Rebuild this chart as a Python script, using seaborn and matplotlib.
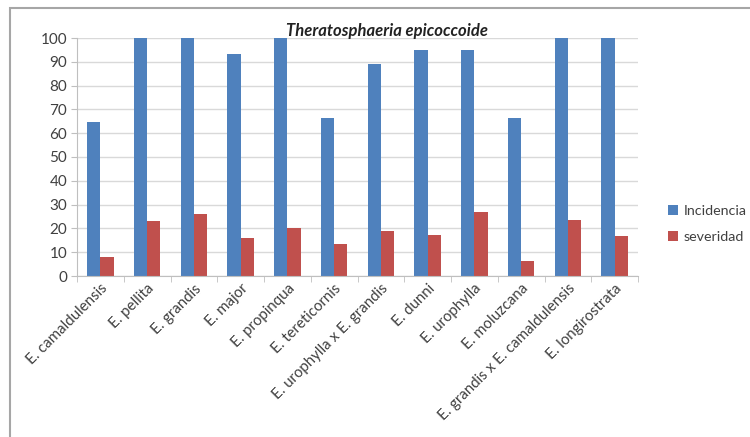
import pandas as pd
import matplotlib.pyplot as plt
import matplotlib.patches as patches
import seaborn as sns

especies = ['E. camaldulensis', 'E. pellita', 'E. grandis', 'E. major', 'E. propinqua',
            'E. tereticornis', 'E. urophylla x E. grandis', 'E. dunni', 'E. urophylla',
            'E. moluzcana', 'E. grandis x E. camaldulensis', 'E. longirostrata']
incidencia = [64.6, 100, 100, 93.4, 100, 66.4, 88.9, 95, 95, 66.4, 100, 100]
severidad = [8.0, 23.1, 26.2, 15.9, 20.3, 13.3, 18.7, 17.3, 26.9, 6.3, 23.6, 16.6]
series = ['Incidencia', 'severidad']

df = pd.DataFrame({
    'especie': especies * 2,
    'valor': incidencia + severidad,
    'serie': [series[0]] * len(especies) + [series[1]] * len(especies),
})

sns.set_style('white')
plt.rcParams['font.family'] = ['Lato', 'DejaVu Sans']

fig = plt.figure(figsize=(7.5, 4.37), dpi=100)
ax = fig.add_axes([77 / 750, 1 - 276 / 437, (638 - 77) / 750, (276 - 38) / 437])

sns.barplot(data=df, x='especie', y='valor', hue='serie', order=especies,
            palette=['#4F81BD', '#C0504D'], width=0.57, saturation=1,
            linewidth=0, ax=ax)

ax.set_ylim(0, 100)
ax.set_xlim(-0.5, len(especies) - 0.5)
ax.set_yticks(range(0, 101, 10))
ax.yaxis.grid(True, color='#d9d9d9', linewidth=1)
ax.set_axisbelow(True)
ax.set_xlabel('')
ax.set_ylabel('')
for s in ['top', 'right']:
    ax.spines[s].set_visible(False)
ax.spines['left'].set_color('#bfbfbf')
ax.spines['bottom'].set_color('#bfbfbf')

ax.tick_params(axis='y', labelsize=11, labelcolor='#404040', length=4, color='#bfbfbf', left=True, pad=3)
ax.set_xticks([i + 0.5 for i in range(-1, len(especies))], minor=True)
ax.tick_params(axis='x', which='minor', length=4, color='#bfbfbf', bottom=True)
ax.tick_params(axis='x', which='major', length=0, labelsize=10.8, labelcolor='#404040', pad=4)
ax.set_xticks(range(len(especies)))
ax.set_xticklabels(especies, rotation=45, ha='right', rotation_mode='anchor')

ax.legend(loc='center left', bbox_to_anchor=(655 / 750, 1 - 224 / 437), bbox_transform=fig.transFigure,
          frameon=False, fontsize=10.3, handlelength=0.7, handleheight=0.7, handletextpad=0.4,
          labelspacing=1.0, labelcolor='#404040')

fig.text(387 / 750, 1 - 31 / 437, 'Theratosphaeria epicoccoide', ha='center', va='center',
         fontsize=12, fontweight='bold', fontstyle='italic', color='#222222')

fig.patches.append(patches.Rectangle((10 / 750, -0.1), 1.2, 1 - 8 / 437 + 0.1, transform=fig.transFigure,
                                     fill=False, edgecolor='#a6a6a6', linewidth=1.5))

fig.savefig('out.png', dpi=100)
